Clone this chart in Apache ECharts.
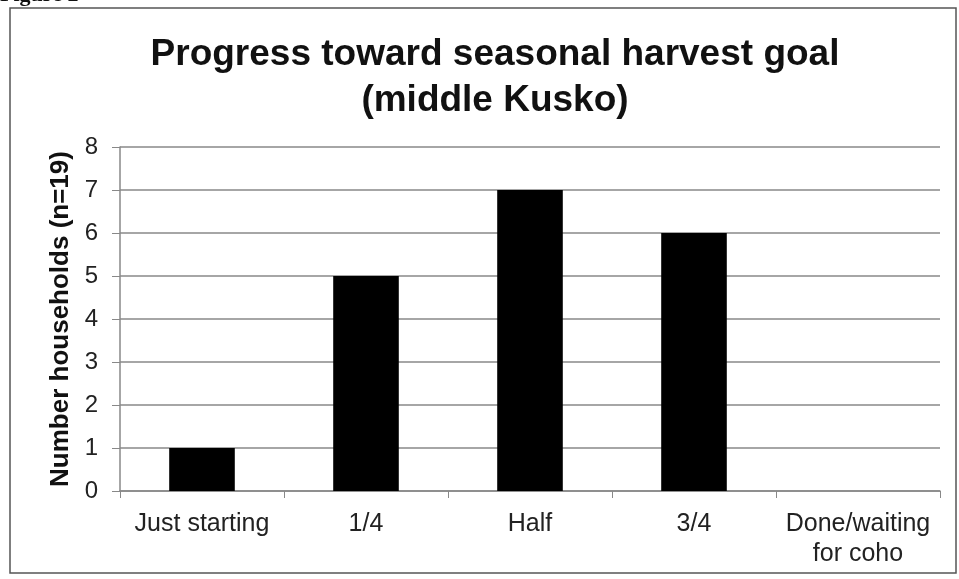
<!DOCTYPE html>
<html><head><meta charset="utf-8">
<script src="https://cdn.jsdelivr.net/npm/echarts@6/dist/echarts.min.js"></script>
<style>html,body{margin:0;padding:0;background:#fff}#c{width:959px;height:579px}</style>
</head><body><div id="c"></div>
<script>
const categories = ['Just starting', '1/4', 'Half', '3/4', 'Done/waiting\nfor coho'];
const households = [1, 5, 7, 6, 0];
const yTicks = [0, 8, 1];
const titleText = 'Progress toward seasonal harvest goal\n(middle Kusko)';
const yName = 'Number households (n=19)';

const chart = echarts.init(document.getElementById('c'), null, {renderer: 'canvas'});
chart.setOption({
  backgroundColor: '#fff',
  animation: false,
  title: {
    text: titleText, left: 490, textAlign: 'center', top: 27,
    textStyle: {fontFamily: 'Liberation Sans, Arial', fontWeight: 'bold', fontSize: 37, color: '#111', lineHeight: 46}
  },
  graphic: [
    {type: 'rect', shape: {x: 10, y: 8, width: 946, height: 565}, style: {fill: 'none', stroke: '#555', lineWidth: 1.5}},
    {type: 'text', left: 0, top: -16, style: {text: 'Figure 2', font: 'bold 22px "Liberation Serif", serif', fill: '#111'}}
  ],
  grid: {left: 120, right: 19, top: 147, bottom: 88},
  xAxis: {
    type: 'category', data: categories,
    axisLine: {lineStyle: {color: '#888', width: 1.5}},
    axisTick: {show: true, length: 7, lineStyle: {color: '#888'}},
    axisLabel: {interval: 0, fontFamily: 'Liberation Sans, Arial', fontSize: 25, color: '#222', margin: 18, lineHeight: 30}
  },
  yAxis: {
    type: 'value', min: yTicks[0], max: yTicks[1], interval: yTicks[2],
    name: yName, nameLocation: 'middle', nameGap: 46,
    nameTextStyle: {fontFamily: 'Liberation Sans, Arial', fontWeight: 'bold', fontSize: 26, color: '#111'},
    axisLine: {show: true, lineStyle: {color: '#888', width: 1.5}},
    axisTick: {show: true, length: 8, lineStyle: {color: '#888'}},
    axisLabel: {fontFamily: 'Liberation Sans, Arial', fontSize: 24, color: '#222', margin: 22},
    splitLine: {lineStyle: {color: '#888', width: 1.5}}
  },
  series: [{
    type: 'bar', data: households, barWidth: '40%',
    itemStyle: {color: '#000'}
  }]
});
</script></body></html>
